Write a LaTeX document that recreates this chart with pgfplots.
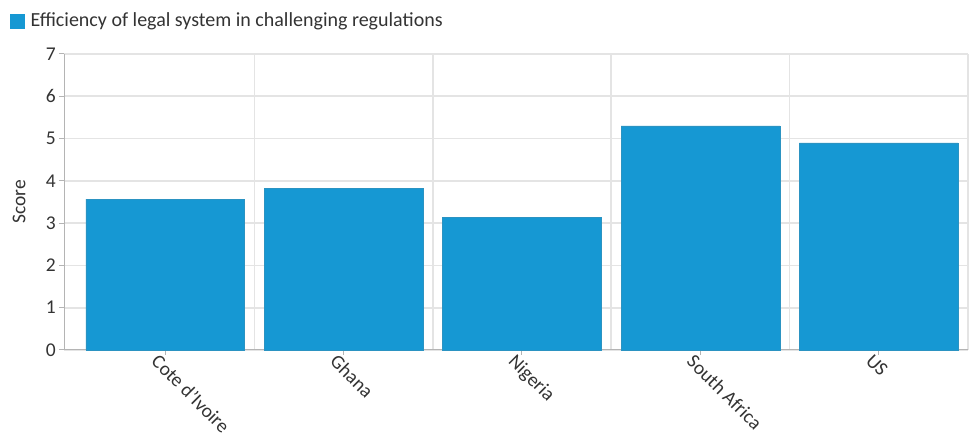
\documentclass[border=0pt]{standalone}
\usepackage{pgfplots}
\pgfplotsset{compat=1.18}
\usepackage{fontspec}
\setmainfont{Carlito}
\definecolor{barblue}{HTML}{1698D3}
\definecolor{gridgray}{HTML}{E4E4E4}
\definecolor{axgray}{HTML}{B4B4B4}
\definecolor{txt}{HTML}{333333}
\begin{document}
\fontsize{20}{24}\selectfont
\begin{tikzpicture}[x=1pt,y=1pt]
\path[use as bounding box] (0,0) rectangle (971,441);
\begin{axis}[
  at={(64pt,91pt)}, anchor=south west,
  scale only axis, width=904pt, height=296pt,
  xmin=-0.567, xmax=4.5, ymin=0, ymax=7,
  axis x line=bottom, axis y line=left,
  axis line style={-, color=axgray, line width=1pt},
  xtick={0,1,2,3,4},
  xticklabels={Cote d'Ivoire,Ghana,Nigeria,South Africa,US},
  minor xtick={0.5,1.5,2.5,3.5,4.5},
  ytick={0,1,...,7},
  ymajorgrids, xminorgrids,
  grid style={color=gridgray, line width=1.6pt},
  minor grid style={color=gridgray, line width=1.6pt},
  major tick length=5pt, minor tick length=0pt,
  tick style={color=axgray, line width=1pt},
  tick align=outside,
  /pgf/number format/assume math mode=true,
  ticklabel style={font=\fontsize{19.5}{23}\selectfont, text=txt},
  xticklabel style={rotate=-45, anchor=north west, inner sep=1pt, xshift=-6pt, yshift=-1pt},
  yticklabel style={inner sep=3pt},
  ylabel={Score},
  ylabel style={font=\fontsize{19.5}{23}\selectfont, text=txt, at={(axis description cs:0,0.5)}, anchor=center, xshift=0pt, yshift=45pt},
  ybar, bar width=0.89,
  legend style={at={(0,1)}, anchor=south west, xshift=-54pt, yshift=22pt, draw=none, fill=none,
    font=\fontsize{20}{24}\selectfont, text=txt, inner sep=0pt,
    /tikz/every even column/.append style={column sep=0pt}},
  legend image code/.code={\fill[barblue] (0pt,-7pt) rectangle (14pt,7pt);},
  legend cell align=left,
  clip=false,
]
\addplot[fill=barblue, draw=barblue!80!gray, line width=0.5pt] coordinates {(0,3.57) (1,3.83) (2,3.13) (3,5.30) (4,4.90)};
\addlegendentry{\hspace{4pt}Efficiency of legal system in challenging regulations}
\end{axis}
\end{tikzpicture}
\end{document}
